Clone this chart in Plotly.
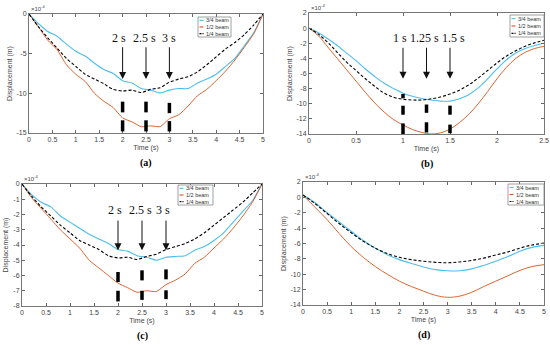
import plotly.graph_objects as go

W, H = 550, 345
series_names = ["3/4 beam", "1/2 beam", "1/4 beam"]
colors = ["#4DBEEE", "#D95319", "#000000"]

# ---------- data (units: 1e-4 m) ----------
t_a = [0, 0.2, 0.4, 0.6, 0.8, 1.0, 1.2, 1.4, 1.6, 1.8, 2.0, 2.2, 2.4, 2.6, 2.8, 3.0, 3.2, 3.4, 3.6, 3.8, 4.0, 4.2, 4.4, 4.6, 4.8, 5.0]
a_34 = [0, -1.2, -2.2, -2.8, -3.8, -4.7, -5.3, -6.2, -7.0, -7.5, -8.4, -8.7, -9.4, -9.6, -9.95, -9.6, -9.4, -9.4, -8.7, -8.2, -7.6, -6.6, -5.6, -4.0, -2.4, 0]
a_12 = [0, -1.6, -3.3, -4.5, -6.4, -7.6, -8.5, -10.0, -11.0, -11.8, -13.1, -13.6, -14.2, -14.1, -14.2, -13.2, -12.7, -11.6, -10.3, -9.5, -8.4, -7.2, -5.8, -4.2, -2.5, 0]
a_14 = [0, -1.6, -3.0, -4.3, -5.6, -6.6, -7.6, -8.2, -8.8, -9.5, -9.7, -9.6, -9.9, -9.5, -9.3, -8.6, -8.2, -7.9, -7.3, -6.4, -5.4, -4.4, -3.6, -2.6, -1.4, 0]

t_b = [0, 0.1, 0.2, 0.3, 0.4, 0.5, 0.6, 0.7, 0.8, 0.9, 1.0, 1.1, 1.2, 1.3, 1.4, 1.5, 1.6, 1.7, 1.8, 1.9, 2.0, 2.1, 2.2, 2.3, 2.4, 2.5]
b_34 = [0, -0.6, -1.4, -2.3, -3.3, -4.3, -5.4, -6.4, -7.3, -8.0, -8.6, -9.0, -9.3, -9.5, -9.65, -9.65, -9.35, -8.8, -7.9, -6.7, -5.4, -4.2, -3.3, -2.7, -2.3, -2.0]
b_12 = [0, -1.0, -2.5, -4.0, -5.5, -7.0, -8.5, -9.9, -11.1, -12.1, -12.8, -13.4, -13.8, -14.0, -13.85, -13.35, -12.5, -11.4, -10.0, -8.4, -6.7, -5.2, -4.0, -3.2, -2.7, -2.4]
b_14 = [0, -0.8, -1.9, -3.2, -4.5, -5.6, -6.7, -7.7, -8.6, -9.15, -9.4, -9.5, -9.5, -9.35, -9.1, -8.7, -8.2, -7.5, -6.6, -5.6, -4.6, -3.7, -3.0, -2.4, -1.95, -1.6]

t_c = [0, 0.2, 0.4, 0.6, 0.8, 1.0, 1.2, 1.4, 1.6, 1.8, 2.0, 2.2, 2.4, 2.6, 2.8, 3.0, 3.2, 3.4, 3.6, 3.8, 4.0, 4.2, 4.4, 4.6, 4.8, 5.0]
c_34 = [0, -0.7, -1.2, -1.5, -2.1, -2.5, -2.9, -3.3, -3.6, -3.9, -4.3, -4.4, -4.7, -4.8, -5.0, -4.8, -4.75, -4.7, -4.35, -4.1, -3.7, -3.2, -2.5, -1.8, -1.1, 0]
c_12 = [0, -0.9, -1.6, -2.3, -3.0, -3.6, -4.2, -5.0, -5.5, -6.0, -6.5, -6.8, -7.1, -7.0, -7.05, -6.6, -6.3, -5.9, -5.2, -4.8, -4.2, -3.6, -2.9, -2.1, -1.2, 0]
c_14 = [0, -0.8, -1.5, -2.1, -2.7, -3.2, -3.7, -4.0, -4.3, -4.7, -4.85, -4.8, -4.95, -4.75, -4.6, -4.3, -4.1, -3.9, -3.6, -3.2, -2.7, -2.2, -1.7, -1.2, -0.6, 0]

t_d = [0, 0.25, 0.5, 0.75, 1.0, 1.25, 1.5, 1.75, 2.0, 2.25, 2.5, 2.75, 3.0, 3.25, 3.5, 3.75, 4.0, 4.25, 4.5, 4.75, 5.0]
d_34 = [0.3, -0.7, -2.0, -3.2, -4.4, -5.6, -6.6, -7.45, -8.1, -8.6, -9.05, -9.4, -9.55, -9.55, -9.3, -8.85, -8.3, -7.7, -7.0, -6.5, -6.25]
d_12 = [0.3, -1.3, -2.9, -4.7, -6.4, -7.8, -9.0, -10.0, -10.9, -11.6, -12.2, -12.75, -13.0, -12.85, -12.35, -11.6, -10.9, -10.2, -9.5, -9.0, -8.75]
d_14 = [0.3, -0.8, -2.1, -3.4, -4.6, -5.7, -6.6, -7.3, -7.8, -8.1, -8.3, -8.45, -8.5, -8.4, -8.2, -7.9, -7.5, -7.1, -6.6, -6.2, -5.95]

# tick labels
xt_5 = [0, 0.5, 1, 1.5, 2, 2.5, 3, 3.5, 4, 4.5, 5]
xt_25 = [0, 0.5, 1, 1.5, 2, 2.5]
yt_a = [0, -5, -10, -15]
yt_b = [2, 0, -2, -4, -6, -8, -10, -12, -14]
yt_c = [0, -1, -2, -3, -4, -5, -6, -7, -8]
yt_d = [2, 0, -2, -4, -6, -8, -10, -12, -14]

# time markers
marks_ac = [2, 2.5, 3]
marks_ac_text = ["2 s", "2.5 s", "3 s"]
marks_b = [1, 1.25, 1.5]
marks_b_text = ["1 s", "1.25 s", "1.5 s"]

# ---------- layout (pixel boxes: left, top, right, bottom) ----------
panels = [
    dict(t=t_a, ys=[a_34, a_12, a_14], box=(29, 14, 263, 133), xr=[0, 5], yr=[-15, 0],
         xt=xt_5, yt=yt_a, label="(a)", leg=(198, 17, 231, 37), spline=0.6,
         marks=marks_ac, mtext=marks_ac_text, text_x=[1.92, 2.46, 3.0], text_y=-3.07,
         arr=(-4.0, -8.2),
         bars=[[(-11.05, -12.4), (-13.4, -14.8)], [(-11.05, -12.4), (-13.4, -14.8)],
               [(-11.2, -12.5), (-13.5, -14.8)]]),
    dict(t=t_b, ys=[b_34, b_12, b_14], box=(309, 13, 544, 134), xr=[0, 2.5], yr=[-14, 2],
         xt=xt_25, yt=yt_b, label="(b)", leg=(510, 15, 544, 37), spline=1.0,
         marks=marks_b, mtext=marks_b_text, text_x=[0.965, 1.23, 1.54], text_y=-1.3,
         arr=(-2.4, -6.7),
         bars=[[(-8.7, -9.28), (-10.26, -11.45), (-12.6, -14.0)],
               [(-10.1, -11.2), (-12.45, -13.8)],
               [(-10.25, -11.45), (-12.76, -13.9)]]),
    dict(t=t_c, ys=[c_34, c_12, c_14], box=(22, 184, 262, 306), xr=[0, 5], yr=[-8, 0],
         xt=xt_5, yt=yt_c, label="(c)", leg=(178, 185, 213, 205), spline=0.6,
         marks=marks_ac, mtext=marks_ac_text, text_x=[1.94, 2.46, 2.94], text_y=-1.7,
         arr=(-2.3, -4.35),
         bars=[[(-5.77, -6.43), (-7.0, -7.7)], [(-5.66, -6.32), (-7.0, -7.6)],
               [(-5.6, -6.25), (-6.97, -7.55)]]),
    dict(t=t_d, ys=[d_34, d_12, d_14], box=(303, 182, 544, 305), xr=[0, 5], yr=[-14, 2],
         xt=xt_5, yt=yt_d, label="(d)", leg=(508, 184, 544, 205), spline=1.0,
         marks=[], mtext=[], text_x=[], text_y=0, arr=(0, 0), bars=[]),
]


def px(x):
    return x / W


def py(y):
    return 1 - y / H


fig = go.Figure()
shapes, annos = [], []
axis_font = dict(family="Liberation Sans, Arial", size=7, color="#444")
serif = "Liberation Serif, Times New Roman"

for i, p in enumerate(panels):
    k = "" if i == 0 else str(i + 1)
    xa, ya = "x" + k, "y" + k
    l, tp, r, b = p["box"]
    for s, (vals, col) in enumerate(zip(p["ys"], colors)):
        fig.add_trace(go.Scatter(
            x=p["t"], y=vals, mode="lines", name=series_names[s], showlegend=False,
            xaxis=xa, yaxis=ya,
            line=dict(color=col, width=1.1 if s != 1 else 0.9,
                      dash="3px,2px" if s == 2 else "solid",
                      shape="spline", smoothing=p["spline"]),
        ))
    fig.layout["xaxis" + k] = dict(
        domain=[px(l), px(r)], range=p["xr"], anchor=ya, tickvals=p["xt"],
        ticktext=[str(v) for v in p["xt"]], ticks="inside", ticklen=3, tickcolor="#666",
        showline=True, linecolor="#777", linewidth=1, mirror="ticks", showgrid=False,
        zeroline=False, tickfont=axis_font, automargin=False, ticklabeloverflow="allow",
        title=dict(text="Time (s)", font=axis_font, standoff=2),
    )
    fig.layout["yaxis" + k] = dict(
        domain=[py(b), py(tp)], range=p["yr"], anchor=xa, tickvals=p["yt"],
        ticktext=[str(v) for v in p["yt"]], ticks="inside", ticklen=3, tickcolor="#666",
        showline=True, linecolor="#777", linewidth=1, mirror="ticks", showgrid=False,
        zeroline=False, tickfont=axis_font, automargin=False, ticklabeloverflow="allow",
        title=dict(text="Displacement (m)", font=axis_font, standoff=3),
    )
    # exponent
    annos.append(dict(x=px(l), y=py(tp), xref="paper", yref="paper", xanchor="left",
                      yanchor="bottom", text="×10<sup>-4</sup>", showarrow=False,
                      font=dict(family="Liberation Sans, Arial", size=6, color="#444")))
    # panel label
    annos.append(dict(x=px((l + r) / 2), y=py(b + 30), xref="paper", yref="paper",
                      xanchor="center", yanchor="middle", text="<b>" + p["label"] + "</b>",
                      showarrow=False, font=dict(family=serif, size=10, color="#000")))
    # markers
    for j, (tm, txt) in enumerate(zip(p["marks"], p["mtext"])):
        annos.append(dict(x=p["text_x"][j], y=p["text_y"], xref=xa, yref=ya, text=txt,
                          showarrow=False, xanchor="center", yanchor="middle",
                          font=dict(family=serif, size=12, color="#111")))
        annos.append(dict(x=tm, y=p["arr"][1], ax=tm, ay=p["arr"][0], xref=xa, yref=ya,
                          axref=xa, ayref=ya, text="", showarrow=True, arrowhead=2,
                          arrowsize=1.4, arrowwidth=1, arrowcolor="#111"))
        for y0, y1 in p["bars"][j]:
            shapes.append(dict(type="line", xref=xa, yref=ya, x0=tm, x1=tm, y0=y0, y1=y1,
                               line=dict(color="#000", width=3.5)))
    # custom legend
    lx0, ly0, lx1, ly1 = p["leg"]
    shapes.append(dict(type="rect", xref="paper", yref="paper", x0=px(lx0), x1=px(lx1),
                       y0=py(ly1), y1=py(ly0), line=dict(color="#888", width=0.8),
                       fillcolor="white", layer="above"))
    rowh = (ly1 - ly0) / 3
    for s in range(3):
        yy = ly0 + rowh * (s + 0.5)
        shapes.append(dict(type="line", xref="paper", yref="paper", x0=px(lx0 + 1.5),
                           x1=px(lx0 + 5.5), y0=py(yy), y1=py(yy), layer="above",
                           line=dict(color=colors[s], width=1.1,
                                     dash="2px,1px" if s == 2 else "solid")))
        annos.append(dict(x=px(lx0 + 6), y=py(yy), xref="paper", yref="paper",
                          xanchor="left", yanchor="middle", text=series_names[s],
                          showarrow=False,
                          font=dict(family="Liberation Sans, Arial", size=5.5, color="#333")))

fig.update_layout(
    width=W, height=H, margin=dict(l=0, r=0, t=0, b=0),
    paper_bgcolor="white", plot_bgcolor="white",
    shapes=shapes, annotations=annos, showlegend=False,
)
fig.write_html("out.html", config={"displayModeBar": False},
               post_script="document.body.style.margin='0px';document.body.style.overflow='hidden';")
